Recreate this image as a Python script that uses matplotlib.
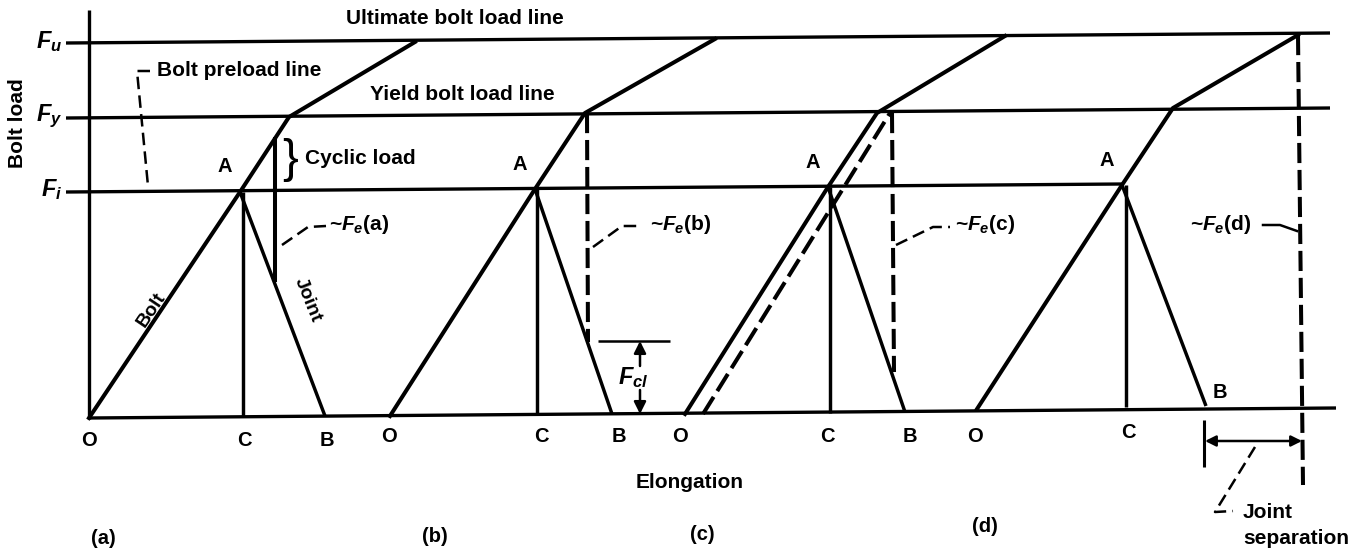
import numpy as np
import matplotlib
matplotlib.use("Agg")
import matplotlib.pyplot as plt

plt.rcParams['font.family'] = ['Liberation Sans', 'DejaVu Sans']
plt.rcParams['font.weight'] = 'bold'
plt.rcParams['mathtext.fontset'] = 'custom'
plt.rcParams['mathtext.it'] = 'Liberation Sans:italic:bold'
plt.rcParams['mathtext.rm'] = 'Liberation Sans:bold'
plt.rcParams['mathtext.bf'] = 'Liberation Sans:bold'

# diagram coordinates (pixel space of the source figure, y grows downward)
axis_x = 89
base_line = [(89, 418), (1336, 408)]
fu_line = [(66, 43), (1330, 33)]
fy_line = [(66, 118), (1330, 108)]
fi_line = [(66, 192), (1122, 184)]
level_labels = ['$F_u$', '$F_y$', '$F_i$']
level_y = [42, 116, 190]

# per case: O, A, yield knee, ultimate point, B
cases = ['a', 'b', 'c', 'd']
pt_O = [(89, 418), (390, 416), (685, 414), (977, 409)]
pt_A = [(240, 192), (535, 189), (828, 187), (1122, 185)]
pt_Y = [(289, 117), (585, 113), (877, 113), (1173, 108)]
pt_U = [(415, 42), (715, 39), (1005, 36), (1298, 35)]
pt_B = [(325, 416), (612, 414), (905, 412), (1206, 406)]
pt_C_x = [243, 537, 830, 1126]
lbl_O = [(89, 440), (389, 437), (680, 437), (975, 436)]
lbl_C = [(244, 440), (541, 437), (827, 437), (1128, 433)]
lbl_B = [(327, 440), (619, 437), (910, 437), (1220, 392)]
case_lbl_pos = [(103, 538), (435, 536), (702, 534), (985, 527)]

# external load markers
cyclic_x = 275
cyclic_top = 137
cyclic_bot = 282
fe_b = [(587, 113), (588, 342)]
fe_c = [(892, 113), (894, 372)]
fe_d = [(1298, 35), (1303, 485)]
shift_c = [(703, 414), (890, 113)]
fcl_bar = [(598, 341), (670, 341)]
fcl_x = 640

fig = plt.figure(figsize=(13.64, 5.5), dpi=100)
ax = fig.add_axes([0, 0, 1, 1])
ax.set_xlim(0, 1364)
ax.set_ylim(550, 0)
ax.axis('off')

def seg(p, q, **kw):
    ax.plot([p[0], q[0]], [p[1], q[1]], color='black', solid_capstyle='butt', **kw)

LW = 2.9
HW = 2.4
DASH = (0, (5, 1.7))
THIN = (0, (5, 2.5))
FS = 15

# axes
seg((axis_x, 10), (axis_x, 419), lw=HW)
seg(*base_line, lw=HW)
seg(*fu_line, lw=HW)
seg(*fy_line, lw=HW)
seg(*fi_line, lw=HW)
for lab, y in zip(level_labels, level_y):
    ax.text(62, y, lab, fontsize=17, ha='right', va='center')
ax.text(18, 123, 'Bolt load', rotation=90, fontsize=FS, ha='center', va='center')
ax.text(455, 18, 'Ultimate bolt load line', fontsize=FS, ha='center', va='center')
ax.text(462, 95, 'Yield bolt load line', fontsize=FS, ha='center', va='center')
ax.text(157, 70, 'Bolt preload line', fontsize=FS, ha='left', va='center')
ax.plot([150, 137, 148], [71, 71, 186], color='black', lw=1.8, ls=THIN)

for i in range(4):
    O, A, Y, U, B = pt_O[i], pt_A[i], pt_Y[i], pt_U[i], pt_B[i]
    ax.plot([O[0], A[0], Y[0], U[0]], [O[1], A[1], Y[1], U[1]], color='black',
            lw=LW, solid_joinstyle='miter')
    seg(A, B, lw=LW * 0.85)
    cy = np.interp(pt_C_x[i], [O[0], pt_B[i][0]], [O[1], pt_B[i][1]])
    seg((pt_C_x[i], A[1]), (pt_C_x[i], cy), lw=LW * 0.85)
    ax.text(*lbl_O[i], 'O', fontsize=14.5, ha='center', va='center')
    ax.text(*lbl_C[i], 'C', fontsize=14.5, ha='center', va='center')
    ax.text(*lbl_B[i], 'B', fontsize=14.5, ha='center', va='center')
    ax.text(A[0] - 15, A[1] - 25, 'A', fontsize=14.5, ha='center', va='center')
    ax.text(*case_lbl_pos[i], '(%s)' % cases[i], fontsize=14.5, ha='center', va='center')

# case (a): cyclic load
seg((cyclic_x, cyclic_top), (cyclic_x, cyclic_bot), lw=LW)
ax.text(290, 160, '}', fontsize=34, ha='center', va='center', fontweight='normal')
ax.text(305, 158, 'Cyclic load', fontsize=FS, ha='left', va='center')
ax.plot([282, 308, 326], [245, 227, 226], color='black', lw=1.8, ls=THIN)
ax.text(329, 224, r'~$F_e$(a)', fontsize=FS, ha='left', va='center')
ax.text(152, 310, 'Bolt', rotation=56, fontsize=14, ha='center', va='center')
ax.text(308, 300, 'Joint', rotation=-68, fontsize=14, ha='center', va='center')

# case (b)
seg(*fe_b, lw=LW, ls=DASH)
seg(*fcl_bar, lw=1.8)
ax.annotate('', xy=(fcl_x, 341), xytext=(fcl_x, 366),
            arrowprops=dict(arrowstyle='-|>', color='black', lw=1.8, mutation_scale=18,
                            shrinkA=0, shrinkB=0))
ax.annotate('', xy=(fcl_x, 414), xytext=(fcl_x, 390),
            arrowprops=dict(arrowstyle='-|>', color='black', lw=1.8, mutation_scale=18,
                            shrinkA=0, shrinkB=0))
ax.text(633, 378, '$F_{cl}$', fontsize=17, ha='center', va='center')
ax.plot([593, 622, 642], [247, 226, 226], color='black', lw=1.8, ls=THIN)
ax.text(650, 224, r'~$F_e$(b)', fontsize=FS, ha='left', va='center')

# case (c)
seg(*shift_c, lw=LW, ls=DASH)
seg(*fe_c, lw=LW, ls=DASH)
ax.plot([896, 933, 950], [245, 227, 227], color='black', lw=1.8, ls=THIN)
ax.text(955, 224, r'~$F_e$(c)', fontsize=FS, ha='left', va='center')

# case (d): joint separation
seg(*fe_d, lw=LW, ls=DASH)
ax.text(1190, 224, r'~$F_e$(d)', fontsize=FS, ha='left', va='center')
ax.plot([1263, 1280, 1297], [225, 225, 231], color='black', lw=1.8)
seg((1204, 420), (1204, 467), lw=2.2)
ax.annotate('', xy=(1205, 441), xytext=(1302, 441),
            arrowprops=dict(arrowstyle='<|-|>', color='black', lw=1.8, mutation_scale=16,
                            shrinkA=0, shrinkB=0))
ax.plot([1255, 1215, 1233], [447, 512, 511], color='black', lw=1.8, ls=THIN)
ax.text(1243, 513, 'Joint', fontsize=FS, ha='left', va='center')
ax.text(1243, 538, 'separation', fontsize=FS, ha='left', va='center')

ax.text(690, 483, 'Elongation', fontsize=FS, ha='center', va='center')

fig.savefig('out.png', dpi=100)
